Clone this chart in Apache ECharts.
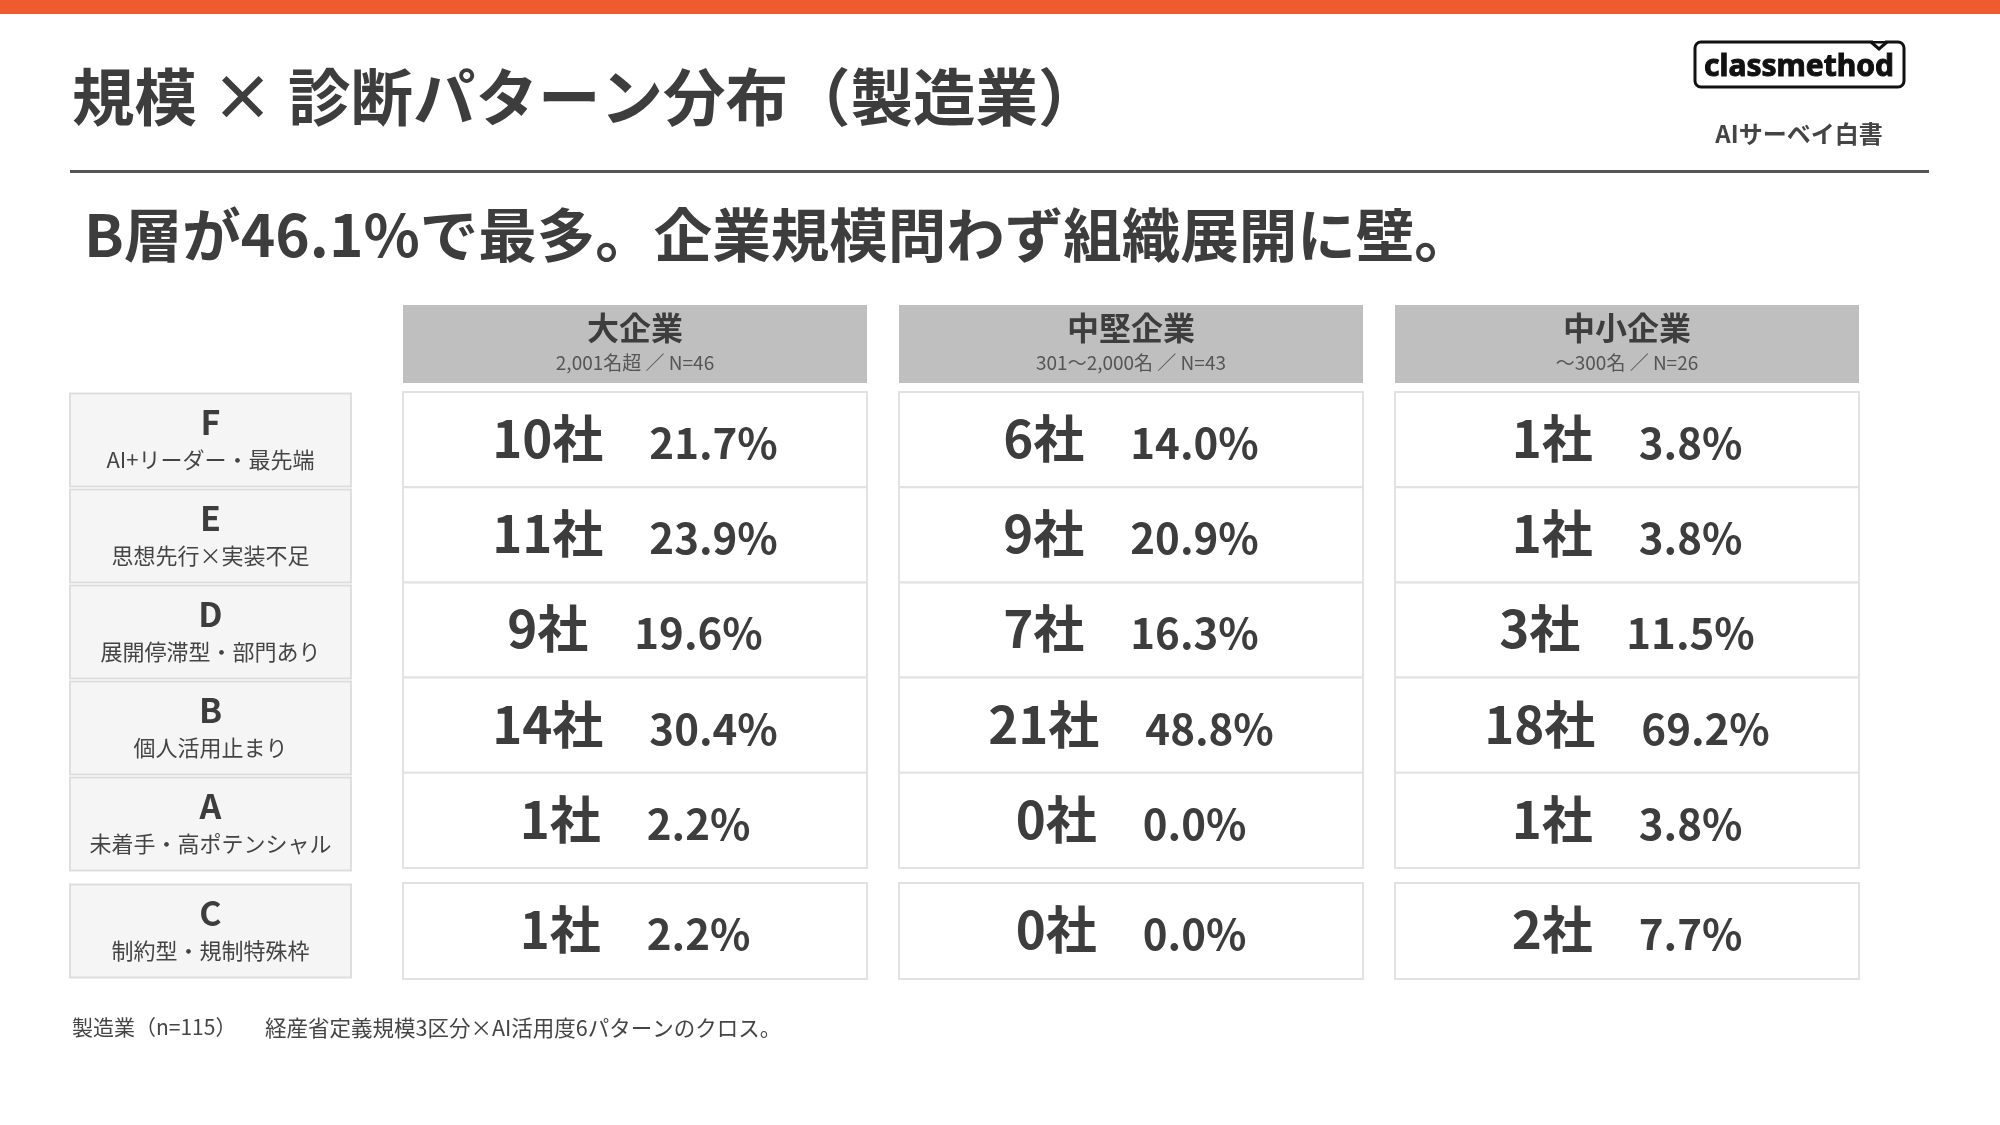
<!DOCTYPE html>
<html lang="ja">
<head>
<meta charset="utf-8">
<title>規模 × 診断パターン分布（製造業）</title>
<script src="https://cdn.jsdelivr.net/npm/echarts@6/dist/echarts.min.js"></script>
<style>
  html, body { margin: 0; padding: 0; background: #fff; }
  #chart { width: 2000px; height: 1125px; }
</style>
</head>
<body>
<div id="chart"></div>
<script>
// column headers (company size)
const sizeNames = ['大企業', '中堅企業', '中小企業'];
const sizeNotes = ['2,001名超 ／ N=46', '301～2,000名 ／ N=43', '～300名 ／ N=26'];

// diagnosis patterns, top block and separate bottom row
const mainPatterns = ['F', 'E', 'D', 'B', 'A'];
const mainPatternNames = ['AI+リーダー・最先端', '思想先行×実装不足', '展開停滞型・部門あり', '個人活用止まり', '未着手・高ポテンシャル'];
const extraPatterns = ['C'];
const extraPatternNames = ['制約型・規制特殊枠'];

// values per column, order F E D B A C
const largeCounts = [10, 11, 9, 14, 1, 1];
const largeShares = [21.7, 23.9, 19.6, 30.4, 2.2, 2.2];
const midCounts = [6, 9, 7, 21, 0, 0];
const midShares = [14.0, 20.9, 16.3, 48.8, 0.0, 0.0];
const smallCounts = [1, 1, 3, 18, 1, 2];
const smallShares = [3.8, 3.8, 11.5, 69.2, 3.8, 7.7];

const FONT = '"Noto Sans CJK JP", "Noto Sans", sans-serif';
const TEXT = '#3d3d3d';

const countCols = [largeCounts, midCounts, smallCounts];
const shareCols = [largeShares, midShares, smallShares];

const mainCells = [];
const extraCells = [];
countCols.forEach((counts, col) => {
    counts.forEach((n, row) => {
        const item = [col, row < mainPatterns.length ? row : row - mainPatterns.length, n, shareCols[col][row]];
        if (row < mainPatterns.length) mainCells.push(item); else extraCells.push(item);
    });
});

const headerCells = sizeNames.map((s, i) => [i, 0, i]);
const mainLabels = mainPatterns.map((p, i) => [0, i, i]);
const extraLabels = extraPatterns.map((p, i) => [0, i, i]);

function renderCell(params, api) {
    const c = api.coord([api.value(0), api.value(1)]);
    const s = api.size([1, 1]);
    const w = s[0] - 32, h = s[1];
    const txt = '{n|' + api.value(2) + '社}{g| }{p|' + api.value(3).toFixed(1) + '%}';
    return {
        type: 'group',
        children: [
            { type: 'rect', shape: { x: c[0] - w / 2, y: c[1] - h / 2, width: w, height: h },
              style: { fill: '#fff', stroke: '#e2e2e2', lineWidth: 2 } },
            { type: 'text', style: {
                x: c[0], y: c[1] - 1, text: txt, align: 'center', verticalAlign: 'middle',
                rich: {
                    n: { fontFamily: FONT, fontWeight: 'bold', fontSize: 51, fill: TEXT, verticalAlign: 'bottom' },
                    g: { width: 46, fontSize: 20 },
                    p: { fontFamily: FONT, fontWeight: 'bold', fontSize: 42, fill: TEXT, verticalAlign: 'bottom' }
                }
            } }
        ]
    };
}

function makeLabelRenderer(letters, names) {
    return function (params, api) {
        const c = api.coord([api.value(0), api.value(1)]);
        const s = api.size([1, 1]);
        const w = s[0], h = s[1] - 3;
        const i = api.value(2);
        return {
            type: 'group',
            children: [
                { type: 'rect', shape: { x: c[0] - w / 2, y: c[1] - h / 2, width: w, height: h },
                  style: { fill: '#f5f5f5', stroke: '#dedede', lineWidth: 2 } },
                { type: 'text', style: {
                    x: c[0], y: c[1], text: '{l|' + letters[i] + '}\n{d|' + names[i] + '}',
                    align: 'center', verticalAlign: 'middle',
                    rich: {
                        l: { fontFamily: FONT, fontWeight: 'bold', fontSize: 34, lineHeight: 40, fill: TEXT },
                        d: { fontFamily: FONT, fontSize: 22, lineHeight: 36, fill: '#444' }
                    }
                } }
            ]
        };
    };
}

function renderHeader(params, api) {
    const c = api.coord([api.value(0), api.value(1)]);
    const s = api.size([1, 1]);
    const w = s[0] - 32, h = s[1];
    const i = api.value(2);
    return {
        type: 'group',
        children: [
            { type: 'rect', shape: { x: c[0] - w / 2, y: c[1] - h / 2, width: w, height: h },
              style: { fill: '#bfbfbf' } },
            { type: 'text', style: {
                x: c[0], y: c[1] - 1, text: '{h|' + sizeNames[i] + '}\n{s|' + sizeNotes[i] + '}',
                align: 'center', verticalAlign: 'middle',
                rich: {
                    h: { fontFamily: FONT, fontWeight: 'bold', fontSize: 32, lineHeight: 40, fill: TEXT },
                    s: { fontFamily: FONT, fontSize: 19, lineHeight: 30, fill: '#555' }
                }
            } }
        ]
    };
}

const hiddenCat = (data, gridIndex, inverse) => ({
    type: 'category', data: data, gridIndex: gridIndex, inverse: !!inverse, show: false
});

const chart = echarts.init(document.getElementById('chart'), null, { renderer: 'canvas' });

const option = {
    backgroundColor: '#fff',
    animation: false,
    grid: [
        { left: 387, width: 1488, top: 305, height: 78 },   // headers
        { left: 387, width: 1488, top: 392, height: 476 },  // F..A cells
        { left: 387, width: 1488, top: 883, height: 96 },   // C cells
        { left: 70, width: 281, top: 392, height: 480 },    // F..A labels
        { left: 70, width: 281, top: 883, height: 96 }      // C label
    ],
    xAxis: [
        hiddenCat(sizeNames, 0),
        hiddenCat(sizeNames, 1),
        hiddenCat(sizeNames, 2),
        hiddenCat(['label'], 3),
        hiddenCat(['label'], 4)
    ],
    yAxis: [
        hiddenCat(['header'], 0),
        hiddenCat(mainPatterns, 1, true),
        hiddenCat(extraPatterns, 2, true),
        hiddenCat(mainPatterns, 3, true),
        hiddenCat(extraPatterns, 4, true)
    ],
    series: [
        { type: 'custom', xAxisIndex: 0, yAxisIndex: 0, data: headerCells, renderItem: renderHeader, silent: true },
        { type: 'custom', xAxisIndex: 1, yAxisIndex: 1, data: mainCells, renderItem: renderCell, silent: true },
        { type: 'custom', xAxisIndex: 2, yAxisIndex: 2, data: extraCells, renderItem: renderCell, silent: true },
        { type: 'custom', xAxisIndex: 3, yAxisIndex: 3, data: mainLabels,
          renderItem: makeLabelRenderer(mainPatterns, mainPatternNames), silent: true },
        { type: 'custom', xAxisIndex: 4, yAxisIndex: 4, data: extraLabels,
          renderItem: makeLabelRenderer(extraPatterns, extraPatternNames), silent: true }
    ],
    graphic: [
        // top accent bar
        { type: 'rect', left: 0, top: 0, shape: { width: 2000, height: 14 }, style: { fill: '#ef5a2f' } },
        { type: 'text', left: 72, top: 66, style: {
            text: '規模 × 診断パターン分布（製造業）', fontFamily: FONT, fontWeight: 'bold', fontSize: 62.5, fill: TEXT } },
        { type: 'rect', left: 70, top: 170, shape: { width: 1859, height: 3 }, style: { fill: '#555' } },
        { type: 'text', left: 84, top: 206, style: {
            text: 'B層が46.1%で最多。企業規模問わず組織展開に壁。', fontFamily: FONT, fontWeight: 'bold', fontSize: 58.5, fill: TEXT } },
        // logo
        { type: 'rect', x: 1695, y: 42, shape: { width: 209, height: 45, r: 6 },
          style: { fill: '#fff', stroke: '#111', lineWidth: 3 } },
        { type: 'polyline', shape: { points: [[1871, 42], [1879, 49], [1887, 42]] },
          style: { stroke: '#111', lineWidth: 3, fill: null } },
        { type: 'rect', x: 1873, y: 39, shape: { width: 12, height: 2 }, style: { fill: '#fff' } },
        { type: 'text', x: 1799, y: 67, style: {
            text: 'classmethod', fontFamily: '"Noto Sans", sans-serif', fontWeight: 'bold', fontSize: 30,
            fill: '#111', stroke: '#111', lineWidth: 1, align: 'center', verticalAlign: 'middle' } },
        { type: 'text', x: 1799, y: 134, style: {
            text: 'AIサーベイ白書', fontFamily: FONT, fontWeight: 'bold', fontSize: 24,
            fill: '#444', align: 'center', verticalAlign: 'middle' } },
        // footnote
        { type: 'text', left: 72, top: 1017, style: {
            text: '製造業（n=115）', fontFamily: FONT, fontSize: 21, fill: '#444' } },
        { type: 'text', left: 265, top: 1017, style: {
            text: '経産省定義規模3区分×AI活用度6パターンのクロス。', fontFamily: FONT, fontSize: 21.5, fill: '#444' } }
    ]
};

chart.setOption(option);
</script>
</body>
</html>
